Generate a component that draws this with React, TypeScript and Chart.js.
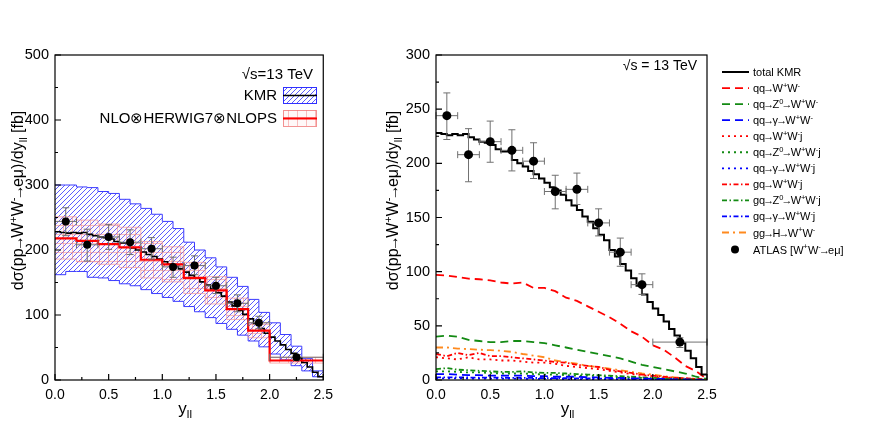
import { useEffect, useRef } from "react"
import { Chart, registerables } from "chart.js"

Chart.register(...registerables)

const FONT = "'Liberation Sans', Arial, sans-serif"
Chart.defaults.font.family = FONT
Chart.defaults.color = "#000"

// total KMR, 0.05 wide bins starting at y=0
const KMR_BIN = 0.05
const kmrTotal = [
    228, 227, 226, 227, 226, 227, 224, 222, 220, 219, 217, 213, 211, 211, 203, 200, 197, 193, 190, 186,
    182, 178, 175, 171, 166, 161, 157, 151, 146, 140, 134, 129, 120, 114, 107, 101, 94, 87, 79, 72,
    66, 60, 54, 47, 41, 34, 27, 20, 12, 5,
]

// KMR uncertainty band, 0.1 wide bins
const BAND_BIN = 0.1
const kmrUpper = [
    300, 300, 297, 296, 290, 287, 278, 271, 264, 255, 244, 233, 212, 200, 188, 174, 158, 144, 124, 104,
    88, 70, 52, 33, 14,
]
const kmrLower = [
    162, 167, 167, 158, 157, 153, 148, 145, 139, 133, 127, 121, 113, 105, 96, 87, 78, 69, 60, 51, 40,
    31, 22, 14, 5,
]

// NLO x HERWIG7 x NLOPS histogram
const nloEdges = [0, 0.2, 0.4, 0.6, 0.8, 1.0, 1.2, 1.4, 1.6, 1.8, 2.0, 2.5]
const nloCentral = [218, 214, 209, 204, 185, 178, 157, 138, 109, 76, 30]
const nloUpper = [251, 246, 240, 235, 213, 205, 181, 159, 126, 88, 35]
const nloLower = [186, 182, 178, 173, 157, 151, 133, 117, 93, 65, 26]

// ATLAS data
const atlasX = [0.1, 0.3, 0.5, 0.7, 0.9, 1.1, 1.3, 1.5, 1.7, 1.9, 2.25]
const atlasXErr = [0.1, 0.1, 0.1, 0.1, 0.1, 0.1, 0.1, 0.1, 0.1, 0.1, 0.25]
const atlasY = [244, 208, 220, 212, 202, 174, 176, 145, 118, 88, 35]
const atlasHi = [265, 232, 239, 231, 219, 189, 191, 158, 131, 98, 39]
const atlasLo = [222, 183, 201, 193, 186, 158, 162, 133, 105, 79, 30]

// subprocess curves (right panel)
const compX = [0, 0.1, 0.2, 0.3, 0.4, 0.5, 0.6, 0.7, 0.8, 0.9, 1.0, 1.1, 1.2, 1.3, 1.4, 1.5, 1.6, 1.7, 1.8, 1.9, 2.0, 2.1, 2.2, 2.3, 2.4, 2.5]
const qqWW = [97, 96.5, 95, 93.5, 93, 92, 90, 89, 90, 85, 85, 82, 76, 73, 68, 63, 58, 52, 45, 40, 32, 28, 21, 13, 8, 1]
const qqZWW = [40, 41, 40, 37, 36, 35, 35, 36, 36, 35, 34, 32, 30, 28, 26, 24, 22, 20, 17, 14, 12, 10, 8, 6, 3, 1]
const qqAWW = [5.5, 5.5, 5, 4.5, 4.5, 4, 4, 4, 4, 3.5, 3.5, 3, 3, 3, 2.5, 2.5, 2, 2, 1.5, 1.5, 1, 1, 0.5, 0.5, 0.3, 0.1]
const qqWWj = [21, 20, 19, 21, 19, 19, 18, 18, 17, 16, 16, 15, 13, 12, 11, 10, 8.5, 7, 5.5, 4.5, 3.5, 2.5, 2, 1.5, 1, 0.5]
const qqZWWj = [8, 8, 7.5, 7, 7, 6.5, 6, 6, 6, 5.5, 5, 5, 4.5, 4, 4, 3.5, 3, 2.5, 2.5, 2, 1.5, 1, 1, 0.5, 0.5, 0.2]
const qqAWWj = [1.5, 1.5, 1.5, 1.4, 1.4, 1.3, 1.3, 1.2, 1.2, 1.1, 1, 1, 0.9, 0.8, 0.8, 0.7, 0.6, 0.5, 0.5, 0.4, 0.3, 0.3, 0.2, 0.1, 0.1, 0.05]
const gqWWj = [24, 22, 25, 23, 25, 22, 22, 21, 20, 19, 18, 16.5, 16, 14, 13, 12, 9.5, 8, 6.5, 5, 4, 3, 2, 1.5, 1, 0.5]
const gqZWWj = [10, 11, 9.5, 9, 8.5, 8, 7.5, 7.5, 8, 7, 6.5, 6.5, 6, 5.5, 5, 4.5, 4, 3.5, 3, 2.5, 2, 1.5, 1.5, 1, 0.5, 0.3]
const gqAWWj = [2.5, 2.5, 2.4, 2.3, 2.2, 2.2, 2.1, 2, 2, 1.9, 1.8, 1.7, 1.6, 1.5, 1.4, 1.3, 1.1, 1, 0.9, 0.7, 0.6, 0.5, 0.4, 0.3, 0.2, 0.1]
const ggHWW = [30, 30, 29, 28.5, 28, 27.5, 27, 26, 24, 22.5, 21, 18, 16.5, 15, 13, 12, 10.5, 9, 7.5, 6, 5, 3.5, 2.5, 1.5, 1, 0.5]

const RED = "#ff0000"
const GREEN = "#138a13"
const BLUE = "#0000ff"
const ORANGE = "#ff8a1e"
const DASH = [8, 5]
const DOT = [2, 4]
const DASHDOT = [5, 2.5, 1.5, 2.5]
const DASHDOT2 = [7, 4, 2, 4]

const components = [
    { label: "qq→W^{+}W^{-}", data: qqWW, color: RED, dash: DASH },
    { label: "qq→Z^{0}→W^{+}W^{-}", data: qqZWW, color: GREEN, dash: DASH },
    { label: "qq→γ→W^{+}W^{-}", data: qqAWW, color: BLUE, dash: DASH },
    { label: "qq→W^{+}W^{-}j", data: qqWWj, color: RED, dash: DOT },
    { label: "qq→Z^{0}→W^{+}W^{-}j", data: qqZWWj, color: GREEN, dash: DOT },
    { label: "qq→γ→W^{+}W^{-}j", data: qqAWWj, color: BLUE, dash: DOT },
    { label: "gq→W^{+}W^{-}j", data: gqWWj, color: RED, dash: DASHDOT },
    { label: "gq→Z^{0}→W^{+}W^{-}j", data: gqZWWj, color: GREEN, dash: DASHDOT },
    { label: "gq→γ→W^{+}W^{-}j", data: gqAWWj, color: BLUE, dash: DASHDOT },
    { label: "gg→H→W^{+}W^{-}", data: ggHWW, color: ORANGE, dash: DASHDOT2 },
]

const Y_TITLE = "dσ(pp→W^{+}W^{-}→eμ)/dy_{ll} [fb]"
const X_TITLE = "y_{ll}"

// ---- helpers ----
type Seg = [string, "n" | "sup" | "sub"]

function parse(s: string): Seg[] {
    const out: Seg[] = []
    const re = /([\^_])\{([^}]*)\}/g
    let last = 0
    let m: RegExpExecArray | null
    while ((m = re.exec(s))) {
        if (m.index > last) out.push([s.slice(last, m.index), "n"])
        out.push([m[2], m[1] === "^" ? "sup" : "sub"])
        last = re.lastIndex
    }
    if (last < s.length) out.push([s.slice(last), "n"])
    return out
}

// the arrow glyph sits in a wide cell, so pull its neighbours closer
function pieces(t: string) {
    return t.split(/(→)/).filter((p) => p.length > 0)
}

function drawRich(ctx: CanvasRenderingContext2D, text: string, x: number, y: number, size: number, align: "left" | "center" | "right") {
    const segs = parse(text)
    const small = size * 0.68
    const width = (p: string) => ctx.measureText(p).width * (p === "→" ? 0.66 : 1)
    let w = 0
    for (const [t, k] of segs) {
        ctx.font = `${k === "n" ? size : small}px ${FONT}`
        for (const p of pieces(t)) w += width(p)
    }
    let cx = align === "left" ? x : align === "center" ? x - w / 2 : x - w
    ctx.textAlign = "left"
    ctx.textBaseline = "alphabetic"
    for (const [t, k] of segs) {
        ctx.font = `${k === "n" ? size : small}px ${FONT}`
        const dy = k === "sup" ? -size * 0.38 : k === "sub" ? size * 0.22 : 0
        for (const p of pieces(t)) {
            if (p === "→") {
                ctx.fillText(p, cx - ctx.measureText(p).width * 0.17, y + dy)
            } else {
                ctx.fillText(p, cx, y + dy)
            }
            cx += width(p)
        }
    }
}

function binSteps(start: number, width: number, vals: number[]) {
    const pts = vals.map((y, i) => ({ x: start + i * width, y }))
    pts.push({ x: start + vals.length * width, y: vals[vals.length - 1] })
    return pts
}

function edgeSteps(edges: number[], vals: number[]) {
    const pts = vals.map((y, i) => ({ x: edges[i], y }))
    pts.push({ x: edges[edges.length - 1], y: vals[vals.length - 1] })
    return pts
}

function hatchPattern(ctx: CanvasRenderingContext2D) {
    const s = 5
    const c = document.createElement("canvas")
    c.width = s
    c.height = s
    const g = c.getContext("2d")!
    g.strokeStyle = "rgba(40,40,255,0.85)"
    g.lineWidth = 0.9
    g.beginPath()
    g.moveTo(0, s)
    g.lineTo(s, 0)
    g.moveTo(-1, 1)
    g.lineTo(1, -1)
    g.moveTo(s - 1, s + 1)
    g.lineTo(s + 1, s - 1)
    g.stroke()
    return ctx.createPattern(c, "repeat")!
}

function gridPattern(ctx: CanvasRenderingContext2D) {
    const s = 9
    const c = document.createElement("canvas")
    c.width = s
    c.height = s
    const g = c.getContext("2d")!
    g.fillStyle = "rgba(255,200,200,0.12)"
    g.fillRect(0, 0, s, s)
    g.strokeStyle = "rgba(240,120,120,0.45)"
    g.lineWidth = 1
    g.beginPath()
    g.moveTo(0, 0.5)
    g.lineTo(s, 0.5)
    g.moveTo(0.5, 0)
    g.lineTo(0.5, s)
    g.stroke()
    return ctx.createPattern(c, "repeat")!
}

function axisScales(yMax: number, yStep: number, yWidth: number) {
    return {
        x: {
            type: "linear" as const,
            min: 0,
            max: 2.5,
            grid: { display: false, drawTicks: false },
            border: { display: false },
            ticks: { stepSize: 0.5, padding: 7, font: { size: 14 }, color: "#000", callback: (v: any) => Number(v).toFixed(1) },
            afterFit: (s: any) => {
                s.height = 57
            },
        },
        y: {
            type: "linear" as const,
            min: 0,
            max: yMax,
            grid: { display: false, drawTicks: false },
            border: { display: false },
            ticks: { stepSize: yStep, padding: 6, font: { size: 14.5 }, color: "#000" },
            afterFit: (s: any) => {
                s.width = yWidth
            },
        },
    }
}

// frame, inward ticks, error bars and axis titles
function framePlugin(yMax: number, yMinor: number, titleBaseX: number) {
    return {
        id: "frame",
        beforeDatasetDraw(chart: any, args: any) {
            const ds = chart.data.datasets[args.index]
            if (ds.label !== "ATLAS") return
            const { ctx, scales } = chart
            const { x, y } = scales
            ctx.save()
            ctx.strokeStyle = "#707070"
            ctx.lineWidth = 1
            ctx.setLineDash([])
            ctx.beginPath()
            atlasX.forEach((xv, i) => {
                const px = x.getPixelForValue(xv)
                const pl = x.getPixelForValue(xv - atlasXErr[i])
                const pr = x.getPixelForValue(xv + atlasXErr[i])
                const py = y.getPixelForValue(atlasY[i])
                const ph = y.getPixelForValue(atlasHi[i])
                const pb = y.getPixelForValue(atlasLo[i])
                ctx.moveTo(px, ph)
                ctx.lineTo(px, pb)
                ctx.moveTo(px - 3.5, ph)
                ctx.lineTo(px + 3.5, ph)
                ctx.moveTo(px - 3.5, pb)
                ctx.lineTo(px + 3.5, pb)
                ctx.moveTo(pl, py)
                ctx.lineTo(pr, py)
                ctx.moveTo(pl, py - 3.5)
                ctx.lineTo(pl, py + 3.5)
                ctx.moveTo(pr, py - 3.5)
                ctx.lineTo(pr, py + 3.5)
            })
            ctx.stroke()
            ctx.restore()
        },
        afterDatasetsDraw(chart: any) {
            const { ctx, chartArea: a, scales } = chart
            const { x, y } = scales
            ctx.save()
            ctx.setLineDash([])
            ctx.strokeStyle = "#000"
            ctx.lineWidth = 1.2
            ctx.strokeRect(a.left, a.top, a.right - a.left, a.bottom - a.top)
            ctx.beginPath()
            for (let i = 0; i <= 10; i++) {
                const px = x.getPixelForValue(i * 0.25)
                ctx.moveTo(px, a.bottom)
                ctx.lineTo(px, a.bottom - (i % 2 === 0 ? 6 : 3))
            }
            const n = Math.round(yMax / yMinor)
            for (let i = 0; i <= n; i++) {
                const py = y.getPixelForValue(i * yMinor)
                ctx.moveTo(a.left, py)
                ctx.lineTo(a.left + (i % 2 === 0 ? 6 : 3), py)
            }
            ctx.stroke()

            // axis titles
            ctx.fillStyle = "#000"
            drawRich(ctx, X_TITLE, (a.left + a.right) / 2 - 4, 414, 17, "center")
            ctx.translate(titleBaseX, (a.top + a.bottom) / 2 - 17)
            ctx.rotate(-Math.PI / 2)
            drawRich(ctx, Y_TITLE, 0, 0, 16, "center")
            ctx.restore()
        },
    }
}

function makeLeft(canvas: HTMLCanvasElement) {
    const ctx = canvas.getContext("2d")!
    const hatch = hatchPattern(ctx)
    const grid = gridPattern(ctx)

    const legend = {
        id: "leftLegend",
        afterDraw(chart: any) {
            const c = chart.ctx as CanvasRenderingContext2D
            c.save()
            c.fillStyle = "#000"
            drawRich(c, "√s=13 TeV", 313, 79, 15, "right")
            drawRich(c, "KMR", 277, 100, 15, "right")
            drawRich(c, "NLO⊗HERWIG7⊗NLOPS", 277, 123, 15, "right")
            // KMR box
            c.fillStyle = hatch
            c.fillRect(283, 87, 33, 16)
            c.strokeStyle = "#3030ff"
            c.lineWidth = 1
            c.strokeRect(283.5, 87.5, 33, 16)
            c.strokeStyle = "#000"
            c.lineWidth = 1.5
            c.beginPath()
            c.moveTo(283, 95.5)
            c.lineTo(317, 95.5)
            c.stroke()
            // NLO box
            c.fillStyle = grid
            c.fillRect(283, 110, 33, 16)
            c.strokeStyle = "rgba(240,120,120,0.8)"
            c.lineWidth = 1
            c.strokeRect(283.5, 110.5, 33, 16)
            c.strokeStyle = RED
            c.lineWidth = 2
            c.beginPath()
            c.moveTo(283, 118.5)
            c.lineTo(317, 118.5)
            c.stroke()
            c.restore()
        },
    }

    return new Chart(ctx, {
        type: "line",
        data: {
            datasets: [
                {
                    label: "KMR up",
                    data: binSteps(0, BAND_BIN, kmrUpper),
                    stepped: true,
                    borderColor: "#3c3cff",
                    borderWidth: 1,
                    pointRadius: 0,
                    fill: "+1",
                    backgroundColor: hatch,
                    order: 10,
                },
                {
                    label: "KMR low",
                    data: binSteps(0, BAND_BIN, kmrLower),
                    stepped: true,
                    borderColor: "#3c3cff",
                    borderWidth: 1,
                    pointRadius: 0,
                    fill: false,
                    order: 10,
                },
                {
                    label: "NLO up",
                    data: edgeSteps(nloEdges, nloUpper),
                    stepped: true,
                    borderColor: "rgba(245,150,150,0.7)",
                    borderWidth: 1,
                    pointRadius: 0,
                    fill: "+1",
                    backgroundColor: grid,
                    order: 9,
                },
                {
                    label: "NLO low",
                    data: edgeSteps(nloEdges, nloLower),
                    stepped: true,
                    borderColor: "rgba(245,150,150,0.7)",
                    borderWidth: 1,
                    pointRadius: 0,
                    fill: false,
                    order: 9,
                },
                {
                    label: "KMR",
                    data: binSteps(0, KMR_BIN, kmrTotal),
                    stepped: true,
                    borderColor: "#000",
                    borderWidth: 1.6,
                    pointRadius: 0,
                    fill: false,
                    order: 3,
                },
                {
                    label: "NLO",
                    data: edgeSteps(nloEdges, nloCentral),
                    stepped: true,
                    borderColor: RED,
                    borderWidth: 2.2,
                    pointRadius: 0,
                    fill: false,
                    order: 2,
                },
                {
                    label: "ATLAS",
                    data: atlasX.map((x, i) => ({ x, y: atlasY[i] })),
                    showLine: false,
                    pointRadius: 4,
                    pointBackgroundColor: "#000",
                    pointBorderWidth: 0,
                    order: 0,
                },
            ],
        },
        options: {
            animation: false,
            responsive: true,
            maintainAspectRatio: false,
            layout: { padding: { top: 55, right: 13, left: 0, bottom: 0 } },
            plugins: { legend: { display: false }, tooltip: { enabled: false } },
            scales: axisScales(500, 100, 55),
        },
        plugins: [framePlugin(500, 50, 23), legend],
    })
}

function makeRight(canvas: HTMLCanvasElement) {
    const ctx = canvas.getContext("2d")!
    const LX = 382
    const rowY = (i: number) => 72 + i * 16.05

    const legend = {
        id: "rightLegend",
        afterDraw(chart: any) {
            const c = chart.ctx as CanvasRenderingContext2D
            c.save()
            c.fillStyle = "#000"
            drawRich(c, "√s = 13 TeV", 357, 70, 14, "right")
            // total KMR
            c.strokeStyle = "#000"
            c.lineWidth = 2
            c.beginPath()
            c.moveTo(LX, rowY(0))
            c.lineTo(LX + 27, rowY(0))
            c.stroke()
            drawRich(c, "total KMR", LX + 31, rowY(0) + 4, 11, "left")
            components.forEach((cp, i) => {
                const y = rowY(i + 1)
                c.strokeStyle = cp.color
                c.lineWidth = 1.8
                c.setLineDash(cp.dash)
                c.beginPath()
                c.moveTo(LX, y)
                c.lineTo(LX + 27, y)
                c.stroke()
                c.setLineDash([])
                c.fillStyle = "#000"
                drawRich(c, cp.label, LX + 31, y + 4, 11, "left")
            })
            const ya = rowY(11) + 1
            c.fillStyle = "#000"
            c.beginPath()
            c.arc(LX + 13, ya, 4, 0, Math.PI * 2)
            c.fill()
            drawRich(c, "ATLAS [W^{+}W^{-}→eμ]", LX + 31, ya + 4, 11, "left")
            c.restore()
        },
    }

    return new Chart(ctx, {
        type: "line",
        data: {
            datasets: [
                {
                    label: "total KMR",
                    data: binSteps(0, KMR_BIN, kmrTotal),
                    stepped: true,
                    borderColor: "#000",
                    borderWidth: 2,
                    pointRadius: 0,
                    fill: false,
                    order: 1,
                },
                ...components.map((cp) => ({
                    label: cp.label,
                    data: compX.map((x, i) => ({ x, y: cp.data[i] })),
                    borderColor: cp.color,
                    borderWidth: 1.8,
                    borderDash: cp.dash,
                    pointRadius: 0,
                    fill: false,
                    tension: 0,
                    order: 2,
                })),
                {
                    label: "ATLAS",
                    data: atlasX.map((x, i) => ({ x, y: atlasY[i] })),
                    showLine: false,
                    pointRadius: 4.5,
                    pointBackgroundColor: "#000",
                    pointBorderWidth: 0,
                    order: 0,
                },
            ],
        },
        options: {
            animation: false,
            responsive: true,
            maintainAspectRatio: false,
            layout: { padding: { top: 55, right: 165, left: 0, bottom: 0 } },
            plugins: { legend: { display: false }, tooltip: { enabled: false } },
            scales: axisScales(300, 50, 96),
        },
        plugins: [framePlugin(300, 25, 58), legend],
    })
}

export default function App() {
    const leftRef = useRef<HTMLCanvasElement>(null)
    const rightRef = useRef<HTMLCanvasElement>(null)

    useEffect(() => {
        if (!leftRef.current || !rightRef.current) return
        const left = makeLeft(leftRef.current)
        const right = makeRight(rightRef.current)
        return () => {
            left.destroy()
            right.destroy()
        }
    }, [])

    return (
        <div style={{ position: "absolute", left: 0, top: 0, width: 872, height: 437, background: "#fff" }}>
            <div style={{ position: "absolute", left: 0, top: 0, width: 340, height: 437 }}>
                <canvas ref={leftRef}></canvas>
            </div>
            <div style={{ position: "absolute", left: 340, top: 0, width: 532, height: 437 }}>
                <canvas ref={rightRef}></canvas>
            </div>
        </div>
    )
}
